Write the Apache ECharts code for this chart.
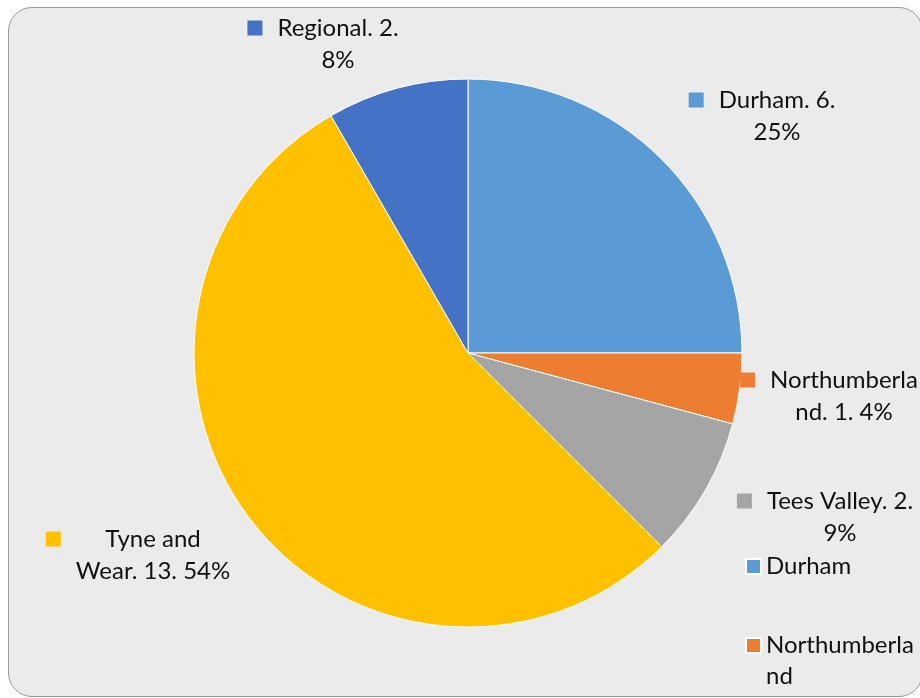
<!DOCTYPE html>
<html>
<head>
<meta charset="utf-8">
<script src="https://cdn.jsdelivr.net/npm/echarts@6/dist/echarts.min.js"></script>
<style>
  html, body { margin: 0; padding: 0; background: #fff; }
  #wrap { position: relative; width: 920px; height: 698px; overflow: hidden; }
  #frame {
    position: absolute; left: 8px; top: 7px; width: 913px; height: 688px;
    background: #ebebeb; border: 1.5px solid #9a9a9a; border-radius: 24px;
  }
  #chart { position: absolute; left: 0; top: 0; width: 920px; height: 698px; }
</style>
</head>
<body>
<div id="wrap">
  <div id="frame"></div>
  <div id="chart"></div>
</div>
<script>
const names = ['Durham', 'Northumberland', 'Tees Valley', 'Tyne and Wear', 'Regional'];
const values = [6, 1, 2, 13, 2];
const pcts = ['25%', '4%', '9%', '54%', '8%'];
const colors = ['#5B9BD5', '#ED7D31', '#A5A5A5', '#FFC000', '#4472C4'];
// where each data label wraps in "name. value. pct"
const wrapAt = [10, 12, 15, 8, 12];
// label box centres
const labelPos = [[762, 116], [829, 396], [825, 517], [138, 555], [323, 44]];

const myChart = echarts.init(document.getElementById('chart'));

const rich = {
    t: { align: 'center', fontFamily: 'Lato', fontSize: 24, lineHeight: 32, color: '#111' },
    g: { align: 'left', width: 15 },
    s: { align: 'left', width: 30 }
};
colors.forEach((c, i) => {
    rich['k' + i] = { align: 'left', width: 15, height: 15, backgroundColor: c };
});

const option = {
    backgroundColor: 'transparent',
    color: colors,
    legend: {
        orient: 'vertical',
        left: 745,
        top: 551,
        height: 1000,
        padding: 0,
        itemGap: 17,
        itemWidth: 15,
        itemHeight: 15,
        icon: 'rect',
        textStyle: { fontFamily: 'Lato', fontSize: 24, lineHeight: 31, color: '#111' },
        // Excel wrapped the long name; the blank first line keeps the key on line one
        formatter: name => name === 'Northumberland' ? '\nNorthumberla\nnd' : name,
        data: names
    },
    series: [{
        type: 'pie',
        center: [468, 353],
        radius: 274,
        startAngle: 90,
        clockwise: true,
        avoidLabelOverlap: false,
        itemStyle: { borderColor: '#fff', borderWidth: 1 },
        emphasis: { disabled: true },
        label: {
            position: 'inside',
            rich: rich,
            formatter: p => {
                const i = p.dataIndex;
                const full = `${names[i]}. ${values[i]}. ${pcts[i]}`;
                const a = full.slice(0, wrapAt[i]).trim();
                const b = full.slice(wrapAt[i]).trim();
                return `{k${i}|}{g|}{t|${a}}\n{s|}{t|${b}}`;
            }
        },
        labelLine: { show: false },
        labelLayout: params => {
            const p = labelPos[params.dataIndex];
            return { x: p[0], y: p[1], align: 'center', verticalAlign: 'middle' };
        },
        data: names.map((n, i) => ({ name: n, value: values[i] }))
    }]
};

myChart.setOption(option);
</script>
</body>
</html>
